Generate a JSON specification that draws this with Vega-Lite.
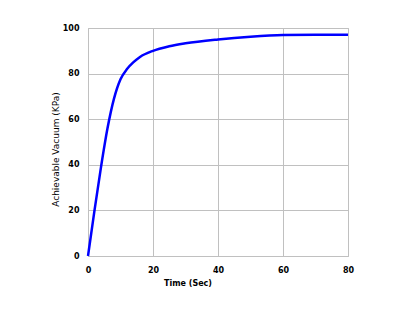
{
  "$schema": "https://vega.github.io/schema/vega-lite/v6.json",
  "width": 260,
  "height": 228,
  "autosize": "none",
  "padding": {"left": 88, "top": 28, "right": 62, "bottom": 58},
  "background": "white",
  "config": {
    "view": {"stroke": "#c0c0c0", "strokeWidth": 1},
    "axis": {
      "labelFont": "DejaVu Sans", "labelFontSize": 8, "labelFontWeight": "bold", "labelColor": "#000",
      "titleFont": "DejaVu Sans", "titleFontSize": 8, "titleFontWeight": "bold", "titleColor": "#000",
      "gridColor": "#c0c0c0", "gridWidth": 1, "gridOpacity": 1,
      "domain": false, "ticks": false, "labelFlush": false
    }
  },
  "data": {"values": [
    {"t": 0, "v": 0}, {"t": 2, "v": 20}, {"t": 4, "v": 39}, {"t": 6, "v": 56},
    {"t": 8, "v": 69}, {"t": 10, "v": 77.5}, {"t": 12, "v": 82}, {"t": 14, "v": 85},
    {"t": 16, "v": 87.3}, {"t": 20, "v": 90}, {"t": 25, "v": 92}, {"t": 30, "v": 93.3},
    {"t": 40, "v": 95}, {"t": 50, "v": 96.2}, {"t": 60, "v": 96.9}, {"t": 70, "v": 97}, {"t": 80, "v": 97}
  ]},
  "mark": {"type": "line", "color": "#0000ff", "strokeWidth": 2.5, "interpolate": "monotone"},
  "encoding": {
    "x": {"field": "t", "type": "quantitative", "title": "Time (Sec)",
          "scale": {"domain": [0, 80], "nice": false},
          "axis": {"values": [0, 20, 40, 60, 80], "labelPadding": 10, "titlePadding": 5, "titleX": 99.5, "titleAlign": "center"}},
    "y": {"field": "v", "type": "quantitative", "title": "Achievable Vacuum (KPa)",
          "scale": {"domain": [0, 100], "nice": false},
          "axis": {"values": [0, 20, 40, 60, 80, 100], "labelPadding": 9, "titlePadding": 2, "titleY": 121,
                   "titleFontWeight": "normal", "titleFontSize": 9}}
  }
}
